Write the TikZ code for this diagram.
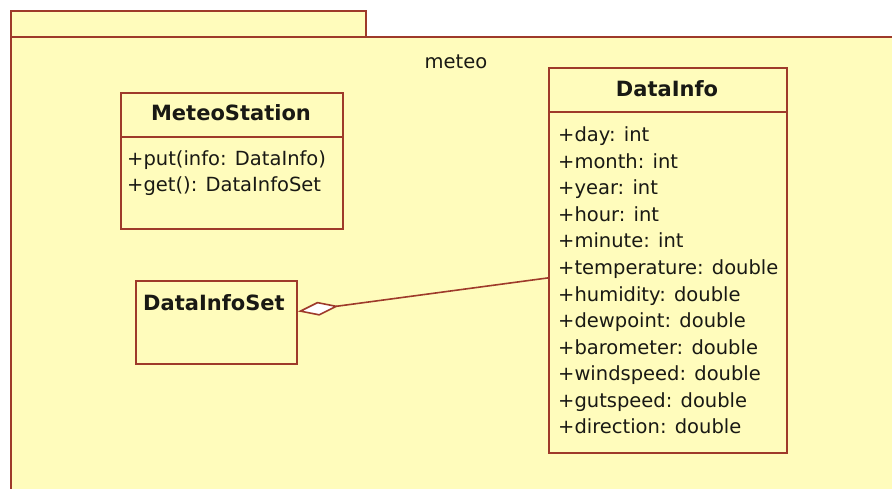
\documentclass[tikz,border=0pt]{standalone}
\usepackage{fontspec}
\setmainfont{DejaVu Sans}
\usetikzlibrary{arrows.meta,calc}
\definecolor{pkg}{RGB}{255,252,188}
\definecolor{bord}{RGB}{158,58,42}
\definecolor{txt}{RGB}{25,25,20}
\begin{document}
\begin{tikzpicture}[x=1pt,y=-1pt,
  box/.style={draw=bord,line width=2pt,fill=pkg,rectangle,anchor=north west,inner sep=0pt},
  ttl/.style={font=\bfseries\fontsize{21}{24}\selectfont,text=txt,anchor=base,inner sep=0pt},
  mem/.style={font=\fontsize{19.5}{24}\selectfont,text=txt,anchor=base west,inner sep=0pt},
  sep/.style={draw=bord,line width=2pt}]
\useasboundingbox (0,0) rectangle (892,488);
\clip (0,0) rectangle (892,488);
\fill[white] (0,0) rectangle (892,488);
% package
\node[box, minimum width=355pt, minimum height=27pt] (tab) at (10,10) {};
\node[box, minimum width=900pt, minimum height=470pt] (pkg) at (10,36) {};
\node[mem, anchor=base] (pname) at (456,68) {meteo};
% MeteoStation
\node[box, minimum width=222pt, minimum height=136pt] (ms) at (120,92) {};
\draw[sep] ($(ms.north west)+(0,45)$) -- ($(ms.north east)+(0,45)$);
\node[ttl] (mst) at (231,120) {MeteoStation};
\node[mem] (ms1) at (127,165) {+put(info: DataInfo)};
\node[mem] (ms2) at (127,191.7) {+get(): DataInfoSet};
% DataInfoSet
\node[box, minimum width=161pt, minimum height=83pt] (dis) at (135,280) {};
\node[ttl] (dist) at (214,310) {DataInfoSet};
% DataInfo
\node[box, minimum width=238pt, minimum height=385pt] (di) at (548,67) {};
\draw[sep] ($(di.north west)+(0,45)$) -- ($(di.north east)+(0,45)$);
\node[ttl] (dit) at (667,96) {DataInfo};
\foreach \t [count=\i from 0] in {+day: int,+month: int,+year: int,+hour: int,+minute: int,+temperature: double,+humidity: double,+dewpoint: double,+barometer: double,+windspeed: double,+gutspeed: double,+direction: double}
  \node[mem] (a\i) at (558,141.7+26.55*\i) {\t};
% aggregation
\draw[bord,line width=1.6pt,{Diamond[open,fill=white,length=41pt,width=14pt]}-]
  ($(dis.north east)!0.37!(dis.south east)$) -- ($(di.north west)!0.545!(di.south west)$);
\end{tikzpicture}
\end{document}
